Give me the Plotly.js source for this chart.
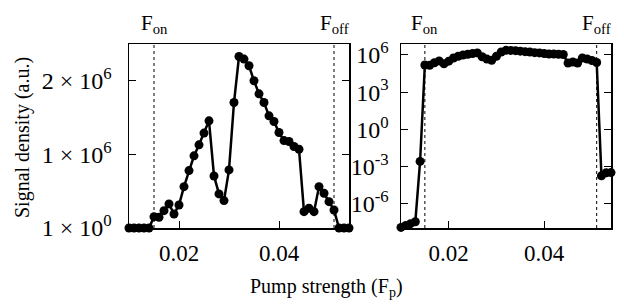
<!DOCTYPE html>
<html>
<head>
<meta charset="utf-8">
<script src="https://cdn.plot.ly/plotly-3.0.1.min.js"></script>
<style>html,body{margin:0;padding:0;background:#fff;}#chart{width:624px;height:304px;}</style>
</head>
<body>
<div id="chart"></div>
<script>
// Pump strength values (F_p)
const pump = [0.010,0.011,0.012,0.013,0.014,0.015,0.016,0.017,0.018,0.019,
              0.020,0.021,0.022,0.023,0.024,0.025,0.026,0.027,0.028,0.029,
              0.030,0.031,0.032,0.033,0.034,0.035,0.036,0.037,0.038,0.039,
              0.040,0.041,0.042,0.043,0.044,0.045,0.046,0.047,0.048,0.049,
              0.050,0.051,0.052,0.053,0.054];
// Signal density (a.u.)
const density = [1.26e-8,1.78e-8,2.5e-8,3.55e-8,2.6e-3,1.54e5,1.45e5,2.36e5,3.27e5,1.9e5,
                 3.13e5,5.62e5,7.8e5,9.8e5,1.13e6,1.29e6,1.456e6,7.07e5,4.63e5,3.72e5,
                 7.89e5,1.705e6,2.33e6,2.295e6,2.204e6,2.0e6,1.823e6,1.705e6,1.524e6,1.447e6,
                 1.297e6,1.188e6,1.175e6,1.107e6,1.07e6,2.22e5,2.68e5,2.22e5,5.62e5,4.72e5,
                 3.58e5,2.45e5,1.8e-4,3.2e-4,3.3e-4];
const fOn = 0.015, fOff = 0.051;
const xTicks = [0.02, 0.04];
const xTickText = ['0.02', '0.04'];
const linTicks = [1, 1e6, 2e6];
const linTickText = ['1 × 10<sup>0</sup>', '1 × 10<sup>6</sup>', '2 × 10<sup>6</sup>'];
const logTicks = [1e-6, 1e-3, 1, 1e3, 1e6];
const logTickText = ['10<sup>-6</sup>', '10<sup>-3</sup>', '10<sup>0</sup>', '10<sup>3</sup>', '10<sup>6</sup>'];

const FONT = 'Liberation Serif, serif';
const W = 624, H = 304;
const px = v => v / W, py = v => (H - v) / H;

const common = {
  mode: 'lines+markers',
  line: {color: '#000', width: 2.5},
  marker: {color: '#000', size: 9},
  cliponaxis: false,
  hoverinfo: 'skip'
};
const traces = [
  Object.assign({x: pump, y: density, xaxis: 'x', yaxis: 'y'}, common),
  Object.assign({x: pump, y: density, xaxis: 'x2', yaxis: 'y2'}, common)
];

const axBase = {
  showline: true, linecolor: '#000', linewidth: 1.5,
  ticks: 'inside', ticklen: 7, tickwidth: 1, tickcolor: '#000',
  showgrid: false, zeroline: false, fixedrange: true,
  tickfont: {family: FONT, size: 24, color: '#000'}
};
const xa = Object.assign({}, axBase, {
  range: [0.01, 0.054], tickmode: 'array', tickvals: xTicks, ticktext: xTickText,
  mirror: true, ticklabelstandoff: 4, tickfont: {family: FONT, size: 23, color: '#000'}
});
const layout = {
  width: W, height: H,
  margin: {l: 0, r: 0, t: 0, b: 0},
  paper_bgcolor: '#fff', plot_bgcolor: '#fff',
  showlegend: false,
  font: {family: FONT, size: 21, color: '#000'},
  xaxis: Object.assign({}, xa, {domain: [px(129), px(349)], anchor: 'y'}),
  xaxis2: Object.assign({}, xa, {domain: [px(401), px(611)], anchor: 'y2'}),
  yaxis: Object.assign({}, axBase, {
    domain: [py(228), py(44)], anchor: 'x', range: [0, 2.5e6],
    tickmode: 'array', tickvals: linTicks, ticktext: linTickText, mirror: 'ticks',
    ticklabelstandoff: 11
  }),
  yaxis2: Object.assign({}, axBase, {
    domain: [py(228), py(44)], anchor: 'x2', type: 'log', range: [-7.95, 6.88],
    tickmode: 'array', tickvals: logTicks, ticktext: logTickText, mirror: 'ticks',
    ticklabelstandoff: 6
  }),
  shapes: [],
  annotations: []
};
[['x', 'y'], ['x2', 'y2']].forEach(([xr, yr]) => {
  [fOn, fOff].forEach(f => {
    layout.shapes.push({type: 'line', xref: xr, yref: yr + ' domain', x0: f, x1: f, y0: 0, y1: 1,
      line: {color: '#000', width: 1, dash: 'dot'}, layer: 'below'});
  });
  layout.annotations.push({xref: xr, yref: 'paper', x: fOn, y: py(24), yanchor: 'middle', xanchor: 'center',
    text: 'F<sub>on</sub>', showarrow: false, font: {family: FONT, size: 21, color: '#000'}});
  layout.annotations.push({xref: xr, yref: 'paper', x: fOff, y: py(24), yanchor: 'middle', xanchor: 'center',
    text: 'F<sub>off</sub>', showarrow: false, font: {family: FONT, size: 21, color: '#000'}});
});
layout.annotations.push({xref: 'paper', yref: 'paper', x: px(326), y: py(287), xanchor: 'center', yanchor: 'middle',
  text: 'Pump strength (F<sub>p</sub>)', showarrow: false, font: {family: FONT, size: 20, color: '#000'}});
layout.annotations.push({xref: 'paper', yref: 'paper', x: px(22), y: py(138), xanchor: 'center', yanchor: 'middle',
  textangle: -90, text: 'Signal density (a.u.)', showarrow: false, font: {family: FONT, size: 20, color: '#000'}});

Plotly.newPlot('chart', traces, layout, {staticPlot: true, displayModeBar: false});
</script>
</body>
</html>
